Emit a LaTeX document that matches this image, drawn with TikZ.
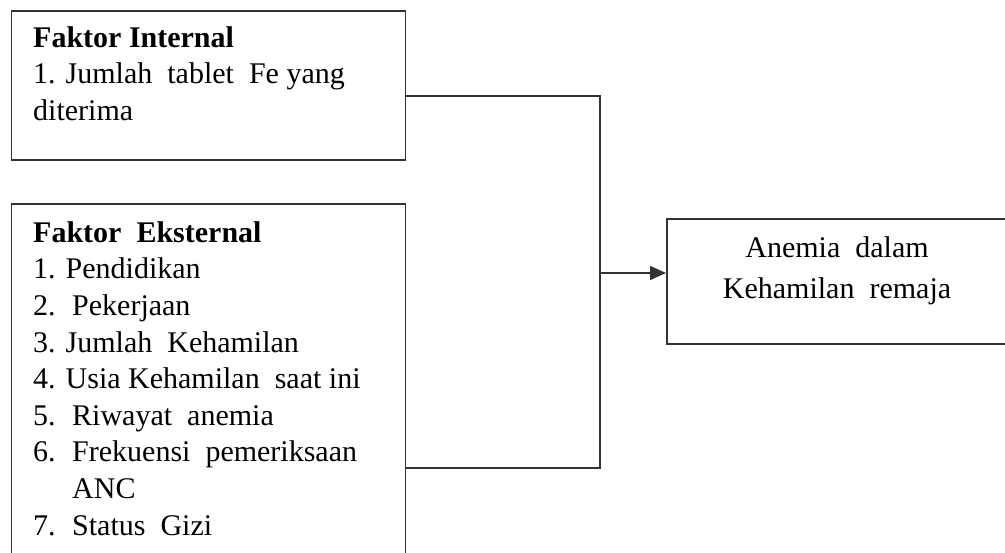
\documentclass[tikz,border=0pt]{standalone}
\usepackage{fontspec}
\setmainfont{Liberation Serif}
\usetikzlibrary{arrows.meta}
\begin{document}
\begin{tikzpicture}[x=1pt,y=-1pt,
  box/.style={draw=black!80, line width=1.6pt, inner sep=0pt, anchor=north west},
  txt/.style={anchor=north west, inner sep=0pt, align=left, font=\fontsize{30}{36.6}\selectfont},
  restxt/.style={anchor=north, inner sep=0pt, align=center, font=\fontsize{30}{41.6}\selectfont},
  conn/.style={draw=black!80, line width=1.6pt},
]
\useasboundingbox (0,0) rectangle (1005,553);
\clip (0,0) rectangle (1005,553);
\node[box, minimum width=394pt, minimum height=149pt] (int) at (10.5,10) {};
\node[box, minimum width=394pt, minimum height=380pt] (ext) at (10.5,203) {};
\node[box, minimum width=342pt, minimum height=125pt] (res) at (666,218) {};

\node[txt] (inttxt) at (33,21.4) {\strut\textbf{Faktor Internal}\\
\strut 1. Jumlah\ \ tablet\ \ Fe yang\\
\strut diterima};

\node[txt] (exttxt) at (33,216.4) {\strut\textbf{Faktor\ \ Eksternal}\\
\strut 1. Pendidikan\\
\strut\makebox[39pt][l]{2.}Pekerjaan\\
\strut 3. Jumlah\ \ Kehamilan\\
\strut 4. Usia Kehamilan\ \ saat ini\\
\strut\makebox[39pt][l]{5.}Riwayat\ \ anemia\\
\strut\makebox[39pt][l]{6.}Frekuensi\ \ pemeriksaan\\
\strut\hspace*{39pt}ANC\\
\strut\makebox[39pt][l]{7.}Status\ \ Gizi};

\node[restxt] (restext) at (837,227.9) {\strut Anemia\ \ dalam\\
\strut Kehamilan\ \ remaja};

\coordinate (j1) at (600,96);
\coordinate (j2) at (600,468);
\coordinate (j3) at (600,273);
\draw[conn] (int.east |- j1) -- (j1) -- (j2) -- (ext.east |- j2);
\draw[conn, -{Triangle[length=16pt,width=14pt]}] (j3) -- (res.west |- j3);
\end{tikzpicture}
\end{document}
